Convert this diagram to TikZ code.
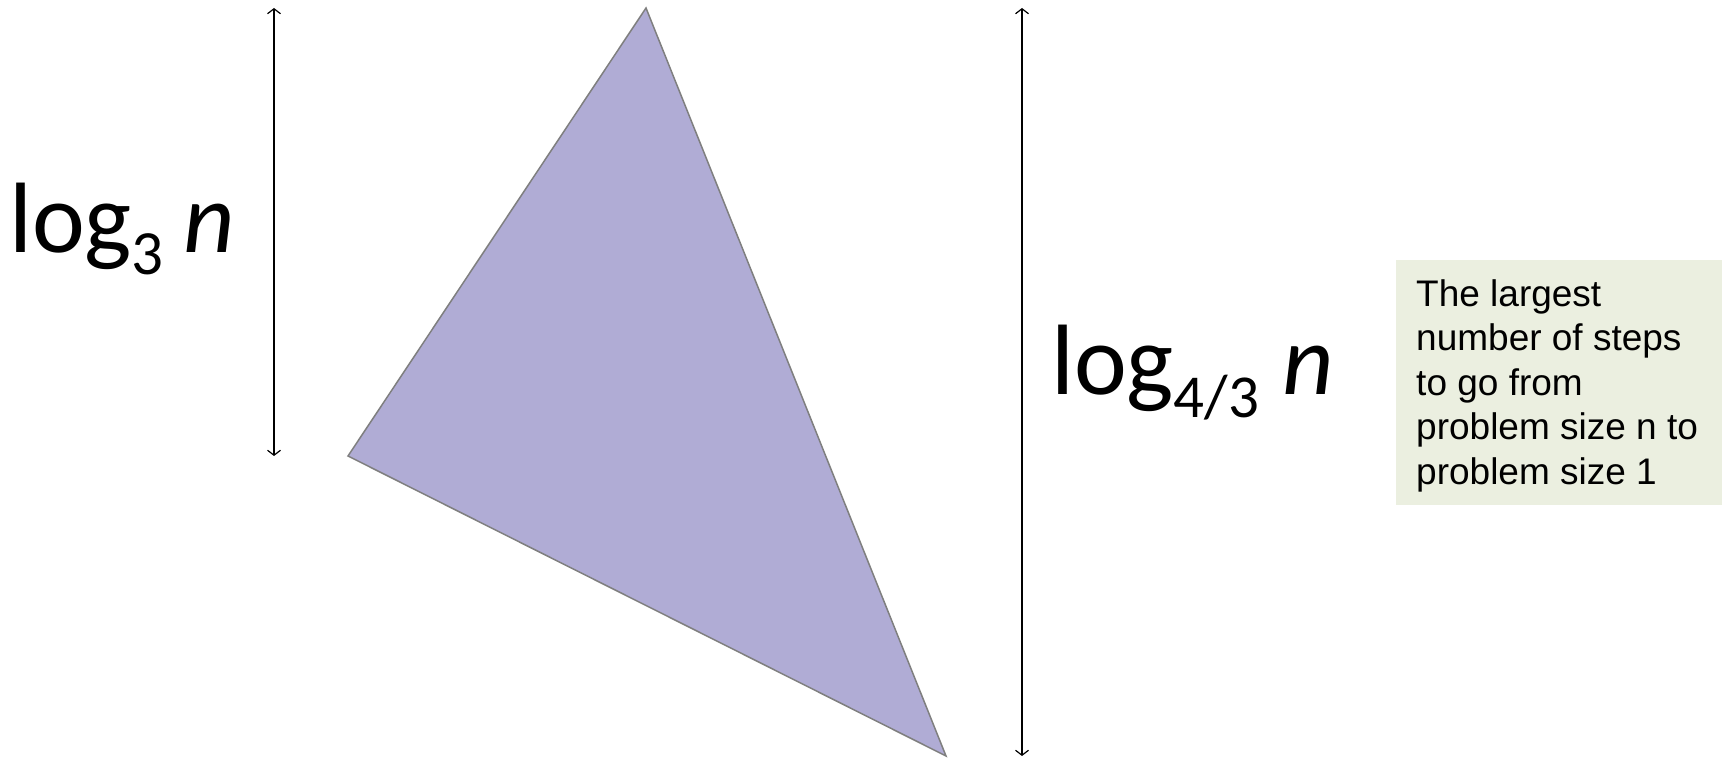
\documentclass[tikz,border=0pt]{standalone}
\usepackage{fontspec}
\setmainfont{Liberation Sans}
\newfontfamily\calfont{Carlito}
\usetikzlibrary{arrows.meta}
\definecolor{trifill}{HTML}{B0ACD5}
\definecolor{tristroke}{HTML}{7F7F7F}
\definecolor{boxfill}{HTML}{EBEFE0}
\tikzset{
  dimarrow/.style={line width=1.2pt, {Straight Barb[length=5pt,width=13pt]}-{Straight Barb[length=5pt,width=13pt]}},
  bigmath/.style={inner sep=0pt, anchor=base west, font=\calfont\fontsize{100}{100}\selectfont},
  notebox/.style={fill=boxfill, draw=none, inner sep=0pt, anchor=north west, minimum width=326pt, minimum height=245pt},
  noteline/.style={inner sep=0pt, anchor=base west, font=\fontsize{37}{44.5}\selectfont}
}
\begin{document}
\begin{tikzpicture}[x=1pt,y=-1pt]
\useasboundingbox (0,0) rectangle (1723,759);
% triangle
\coordinate (A) at (646,8);
\coordinate (L) at (348,456);
\coordinate (B) at (946,756);
\filldraw[fill=trifill, draw=tristroke, line width=1.5pt, line join=miter] (A) -- (L) -- (B) -- cycle;
% dimension arrows
\coordinate (l1) at (274,8);
\coordinate (l2) at (274,456);
\coordinate (r1) at (1022,8);
\coordinate (r2) at (1022,756);
\draw[dimarrow] (l1) -- (l2);
\draw[dimarrow] (r1) -- (r2);
% labels
\node[bigmath] (lab1) at (9,253) {log\raisebox{-22pt}{\fontsize{63}{63}\selectfont 3}\hspace{20pt}\textit{n}};
\node[bigmath] (lab2) at (1051,394) {log\raisebox{-23pt}{\fontsize{61}{61}\selectfont 4/3}\hspace{23pt}\textit{n}};
% note box
\node[notebox] (box) at (1396,260) {};
\node[noteline] (t1) at (1416,306) {The largest};
\node[noteline] (t2) at (1416,350.5) {number of steps};
\node[noteline] (t3) at (1416,395) {to go from};
\node[noteline] (t4) at (1416,439.5) {problem size n to};
\node[noteline] (t5) at (1416,484) {problem size 1};
\end{tikzpicture}
\end{document}
